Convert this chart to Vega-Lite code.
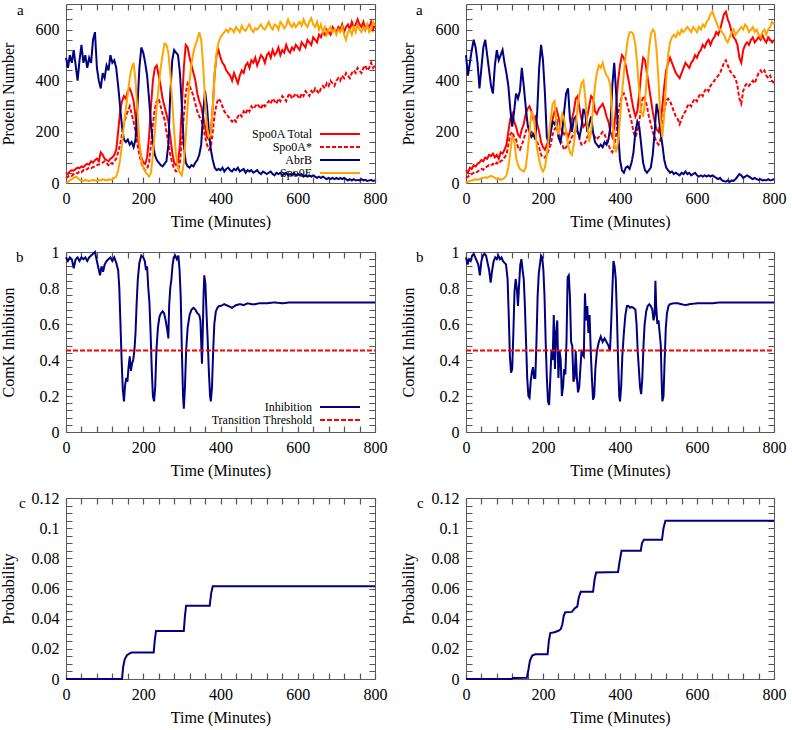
{
"$schema": "https://vega.github.io/schema/vega-lite/v6.json",
"padding": {"left": -1, "top": 0, "right": 4, "bottom": 2},
"config": {
 "font": "Liberation Serif, DejaVu Serif, serif",
 "view": {"stroke": "#5a5a5a", "strokeWidth": 1},
 "axis": {"domain": false, "ticks": false, "grid": true, "gridColor": "#555555", "gridWidth": 1.2, "gridOpacity": 1, "labelFlush": false, "labelOverlap": false, "labelFont": "Liberation Serif, DejaVu Serif, serif", "labelFontSize": 16, "labelColor": "#000", "titleFont": "Liberation Serif, DejaVu Serif, serif", "titleFontSize": 16, "titleFontWeight": "normal", "titleColor": "#000", "labelPadding": 7, "titlePadding": 0, "minExtent": 50, "maxExtent": 50},
 "axisX": {"minExtent": 30, "maxExtent": 30},
 "legend": {"labelFont": "Liberation Serif, DejaVu Serif, serif", "labelFontSize": 12, "labelColor": "#000", "symbolStrokeWidth": 2, "labelAlign": "right", "rowPadding": 1, "padding": 0},
 "title": {"font": "Liberation Serif, DejaVu Serif, serif", "fontSize": 15, "fontWeight": "normal", "color": "#000", "frame": "group", "anchor": "start"}
},
"datasets": {
 "aL": [
{"t":0,"T":40,"S":20,"B":490,"E":0},{"t":5,"T":35,"S":25,"B":450,"E":5},{"t":10,"T":45,"S":30,"B":500,"E":10},{"t":15,"T":50,"S":28,"B":470,"E":15},{"t":20,"T":48,"S":35,"B":520,"E":20},{"t":25,"T":55,"S":40,"B":460,"E":25},{"t":30,"T":60,"S":38,"B":400,"E":20},{"t":35,"T":58,"S":45,"B":480,"E":12},{"t":40,"T":65,"S":42,"B":540,"E":10},{"t":45,"T":62,"S":50,"B":470,"E":8},{"t":50,"T":70,"S":48,"B":500,"E":12},{"t":55,"T":75,"S":55,"B":450,"E":10},{"t":60,"T":72,"S":60,"B":490,"E":8},{"t":65,"T":85,"S":58,"B":470,"E":10},{"t":70,"T":80,"S":62,"B":560,"E":12},{"t":75,"T":90,"S":65,"B":590,"E":10},{"t":80,"T":95,"S":70,"B":450,"E":8},{"t":85,"T":85,"S":72,"B":400,"E":12},{"t":90,"T":120,"S":75,"B":370,"E":10},{"t":95,"T":110,"S":80,"B":430,"E":15},{"t":100,"T":95,"S":85,"B":410,"E":12},{"t":105,"T":90,"S":78,"B":460,"E":10},{"t":110,"T":85,"S":70,"B":440,"E":15},{"t":115,"T":95,"S":80,"B":500,"E":12},{"t":120,"T":100,"S":75,"B":470,"E":15},{"t":125,"T":110,"S":85,"B":480,"E":20},{"t":130,"T":130,"S":95,"B":450,"E":25},{"t":135,"T":200,"S":120,"B":380,"E":50},{"t":140,"T":280,"S":150,"B":300,"E":90},{"t":145,"T":320,"S":190,"B":220,"E":150},{"t":150,"T":340,"S":230,"B":170,"E":230},{"t":155,"T":330,"S":260,"B":160,"E":290},{"t":160,"T":360,"S":280,"B":170,"E":350},{"t":165,"T":370,"S":300,"B":150,"E":410},{"t":170,"T":350,"S":270,"B":160,"E":450},{"t":175,"T":320,"S":240,"B":140,"E":470},{"t":180,"T":260,"S":200,"B":170,"E":400},{"t":185,"T":200,"S":150,"B":300,"E":280},{"t":190,"T":140,"S":110,"B":450,"E":160},{"t":195,"T":100,"S":80,"B":530,"E":90},{"t":200,"T":80,"S":60,"B":510,"E":60},{"t":205,"T":75,"S":50,"B":470,"E":45},{"t":210,"T":100,"S":55,"B":420,"E":35},{"t":215,"T":180,"S":80,"B":330,"E":25},{"t":220,"T":300,"S":150,"B":230,"E":40},{"t":225,"T":400,"S":230,"B":160,"E":110},{"t":230,"T":450,"S":290,"B":110,"E":200},{"t":235,"T":460,"S":320,"B":90,"E":300},{"t":240,"T":420,"S":330,"B":80,"E":380},{"t":245,"T":380,"S":300,"B":70,"E":450},{"t":250,"T":330,"S":270,"B":65,"E":500},{"t":255,"T":300,"S":250,"B":75,"E":545},{"t":260,"T":270,"S":200,"B":85,"E":540},{"t":265,"T":240,"S":160,"B":150,"E":510},{"t":270,"T":180,"S":110,"B":350,"E":430},{"t":275,"T":120,"S":80,"B":480,"E":320},{"t":280,"T":80,"S":55,"B":520,"E":200},{"t":285,"T":70,"S":45,"B":510,"E":110},{"t":290,"T":80,"S":50,"B":500,"E":60},{"t":295,"T":150,"S":80,"B":430,"E":40},{"t":300,"T":300,"S":160,"B":300,"E":30},{"t":305,"T":450,"S":260,"B":150,"E":80},{"t":310,"T":540,"S":350,"B":80,"E":180},{"t":315,"T":530,"S":390,"B":65,"E":300},{"t":320,"T":490,"S":380,"B":60,"E":400},{"t":325,"T":460,"S":360,"B":70,"E":470},{"t":330,"T":430,"S":340,"B":65,"E":510},{"t":335,"T":400,"S":310,"B":80,"E":540},{"t":340,"T":350,"S":280,"B":90,"E":560},{"t":345,"T":320,"S":260,"B":110,"E":590},{"t":350,"T":300,"S":250,"B":150,"E":560},{"t":355,"T":260,"S":220,"B":270,"E":460},{"t":360,"T":220,"S":180,"B":360,"E":330},{"t":365,"T":180,"S":150,"B":300,"E":220},{"t":370,"T":170,"S":130,"B":200,"E":180},{"t":375,"T":200,"S":140,"B":130,"E":190},{"t":380,"T":300,"S":200,"B":90,"E":300},{"t":385,"T":430,"S":270,"B":60,"E":430},{"t":390,"T":500,"S":310,"B":50,"E":510},{"t":395,"T":520,"S":330,"B":55,"E":550},{"t":400,"T":490,"S":320,"B":50,"E":570},{"t":405,"T":470,"S":300,"B":60,"E":580},{"t":410,"T":460,"S":280,"B":45,"E":590},{"t":415,"T":440,"S":270,"B":55,"E":600},{"t":420,"T":430,"S":260,"B":60,"E":590},{"t":425,"T":420,"S":250,"B":50,"E":605},{"t":430,"T":400,"S":240,"B":45,"E":600},{"t":435,"T":430,"S":250,"B":55,"E":590},{"t":440,"T":410,"S":240,"B":50,"E":610},{"t":445,"T":390,"S":260,"B":60,"E":600},{"t":450,"T":420,"S":270,"B":45,"E":590},{"t":455,"T":440,"S":260,"B":50,"E":615},{"t":460,"T":430,"S":280,"B":55,"E":600},{"t":465,"T":460,"S":270,"B":40,"E":595},{"t":470,"T":470,"S":290,"B":50,"E":610},{"t":475,"T":450,"S":280,"B":45,"E":620},{"t":480,"T":480,"S":300,"B":50,"E":600},{"t":485,"T":470,"S":290,"B":40,"E":590},{"t":490,"T":490,"S":300,"B":45,"E":605},{"t":495,"T":460,"S":310,"B":50,"E":600},{"t":500,"T":480,"S":300,"B":40,"E":610},{"t":505,"T":500,"S":290,"B":35,"E":620},{"t":510,"T":490,"S":310,"B":45,"E":605},{"t":515,"T":470,"S":300,"B":40,"E":600},{"t":520,"T":500,"S":310,"B":35,"E":615},{"t":525,"T":510,"S":320,"B":40,"E":630},{"t":530,"T":490,"S":310,"B":45,"E":610},{"t":535,"T":520,"S":330,"B":35,"E":600},{"t":540,"T":500,"S":320,"B":30,"E":620},{"t":545,"T":510,"S":310,"B":40,"E":615},{"t":550,"T":530,"S":330,"B":35,"E":600},{"t":555,"T":500,"S":320,"B":40,"E":630},{"t":560,"T":520,"S":340,"B":30,"E":620},{"t":565,"T":510,"S":330,"B":35,"E":605},{"t":570,"T":540,"S":320,"B":40,"E":615},{"t":575,"T":520,"S":340,"B":30,"E":640},{"t":580,"T":510,"S":350,"B":35,"E":620},{"t":585,"T":530,"S":330,"B":30,"E":610},{"t":590,"T":520,"S":340,"B":40,"E":625},{"t":595,"T":540,"S":350,"B":30,"E":610},{"t":600,"T":530,"S":340,"B":35,"E":620},{"t":605,"T":520,"S":330,"B":30,"E":630},{"t":610,"T":550,"S":350,"B":35,"E":615},{"t":615,"T":540,"S":340,"B":25,"E":640},{"t":620,"T":530,"S":360,"B":30,"E":620},{"t":625,"T":560,"S":350,"B":25,"E":610},{"t":630,"T":550,"S":340,"B":30,"E":630},{"t":635,"T":540,"S":360,"B":25,"E":645},{"t":640,"T":570,"S":350,"B":30,"E":620},{"t":645,"T":560,"S":370,"B":25,"E":610},{"t":650,"T":550,"S":360,"B":20,"E":630},{"t":655,"T":580,"S":350,"B":25,"E":600},{"t":660,"T":570,"S":370,"B":20,"E":620},{"t":665,"T":590,"S":380,"B":25,"E":590},{"t":670,"T":580,"S":370,"B":20,"E":610},{"t":675,"T":600,"S":390,"B":15,"E":580},{"t":680,"T":590,"S":380,"B":20,"E":600},{"t":685,"T":580,"S":400,"B":15,"E":610},{"t":690,"T":610,"S":390,"B":20,"E":590},{"t":695,"T":600,"S":380,"B":15,"E":600},{"t":700,"T":590,"S":400,"B":20,"E":580},{"t":705,"T":610,"S":410,"B":15,"E":600},{"t":710,"T":600,"S":400,"B":20,"E":590},{"t":715,"T":620,"S":420,"B":15,"E":610},{"t":720,"T":590,"S":410,"B":20,"E":580},{"t":725,"T":610,"S":430,"B":15,"E":560},{"t":730,"T":620,"S":420,"B":10,"E":590},{"t":735,"T":600,"S":410,"B":15,"E":600},{"t":740,"T":630,"S":430,"B":10,"E":580},{"t":745,"T":610,"S":440,"B":15,"E":610},{"t":750,"T":620,"S":430,"B":10,"E":590},{"t":755,"T":640,"S":450,"B":12,"E":620},{"t":760,"T":620,"S":440,"B":10,"E":600},{"t":765,"T":610,"S":430,"B":15,"E":590},{"t":770,"T":630,"S":450,"B":10,"E":610},{"t":775,"T":600,"S":460,"B":12,"E":600},{"t":780,"T":620,"S":440,"B":8,"E":620},{"t":785,"T":610,"S":450,"B":10,"E":590},{"t":790,"T":630,"S":470,"B":12,"E":600},{"t":795,"T":600,"S":450,"B":8,"E":630},{"t":800,"T":620,"S":460,"B":10,"E":615}
 ],
 "aR": [
{"t":0,"T":50,"S":20,"B":500,"E":0},{"t":5,"T":40,"S":25,"B":420,"E":5},{"t":10,"T":60,"S":30,"B":470,"E":8},{"t":15,"T":55,"S":35,"B":520,"E":10},{"t":20,"T":70,"S":40,"B":560,"E":12},{"t":25,"T":65,"S":38,"B":530,"E":15},{"t":30,"T":75,"S":45,"B":470,"E":12},{"t":35,"T":80,"S":50,"B":370,"E":15},{"t":40,"T":90,"S":55,"B":450,"E":18},{"t":45,"T":85,"S":52,"B":530,"E":20},{"t":50,"T":100,"S":60,"B":560,"E":22},{"t":55,"T":95,"S":65,"B":500,"E":20},{"t":60,"T":110,"S":70,"B":440,"E":25},{"t":65,"T":105,"S":68,"B":380,"E":28},{"t":70,"T":115,"S":75,"B":350,"E":25},{"t":75,"T":100,"S":70,"B":460,"E":20},{"t":80,"T":110,"S":80,"B":520,"E":15},{"t":85,"T":95,"S":75,"B":480,"E":18},{"t":90,"T":120,"S":85,"B":500,"E":12},{"t":95,"T":115,"S":90,"B":520,"E":15},{"t":100,"T":130,"S":100,"B":470,"E":20},{"t":105,"T":150,"S":110,"B":430,"E":30},{"t":110,"T":200,"S":150,"B":380,"E":60},{"t":115,"T":250,"S":190,"B":290,"E":120},{"t":120,"T":270,"S":200,"B":220,"E":180},{"t":125,"T":240,"S":180,"B":280,"E":170},{"t":130,"T":220,"S":170,"B":350,"E":100},{"t":135,"T":190,"S":140,"B":330,"E":70},{"t":140,"T":180,"S":130,"B":360,"E":55},{"t":145,"T":210,"S":150,"B":450,"E":50},{"t":150,"T":230,"S":170,"B":380,"E":45},{"t":155,"T":270,"S":200,"B":300,"E":60},{"t":160,"T":290,"S":220,"B":230,"E":120},{"t":165,"T":300,"S":210,"B":200,"E":200},{"t":170,"T":280,"S":200,"B":180,"E":280},{"t":175,"T":250,"S":190,"B":190,"E":260},{"t":180,"T":260,"S":180,"B":170,"E":200},{"t":185,"T":230,"S":160,"B":280,"E":130},{"t":190,"T":200,"S":140,"B":450,"E":90},{"t":195,"T":160,"S":110,"B":540,"E":60},{"t":200,"T":140,"S":100,"B":480,"E":45},{"t":205,"T":130,"S":100,"B":350,"E":60},{"t":210,"T":150,"S":110,"B":180,"E":110},{"t":215,"T":170,"S":130,"B":150,"E":180},{"t":220,"T":200,"S":150,"B":200,"E":250},{"t":225,"T":250,"S":190,"B":240,"E":310},{"t":230,"T":280,"S":210,"B":230,"E":320},{"t":235,"T":290,"S":220,"B":250,"E":230},{"t":240,"T":260,"S":200,"B":180,"E":190},{"t":245,"T":220,"S":170,"B":160,"E":220},{"t":250,"T":200,"S":150,"B":200,"E":270},{"t":255,"T":190,"S":130,"B":280,"E":250},{"t":260,"T":200,"S":140,"B":350,"E":200},{"t":265,"T":180,"S":150,"B":370,"E":150},{"t":270,"T":200,"S":160,"B":250,"E":120},{"t":275,"T":250,"S":180,"B":200,"E":110},{"t":280,"T":280,"S":190,"B":250,"E":150},{"t":285,"T":330,"S":210,"B":260,"E":220},{"t":290,"T":340,"S":200,"B":200,"E":300},{"t":295,"T":290,"S":170,"B":180,"E":350},{"t":300,"T":250,"S":150,"B":220,"E":390},{"t":305,"T":220,"S":150,"B":290,"E":400},{"t":310,"T":230,"S":160,"B":270,"E":330},{"t":315,"T":260,"S":180,"B":200,"E":230},{"t":320,"T":300,"S":190,"B":230,"E":160},{"t":325,"T":340,"S":200,"B":260,"E":200},{"t":330,"T":330,"S":190,"B":200,"E":300},{"t":335,"T":280,"S":180,"B":160,"E":380},{"t":340,"T":270,"S":170,"B":150,"E":430},{"t":345,"T":290,"S":180,"B":140,"E":460},{"t":350,"T":300,"S":190,"B":150,"E":450},{"t":355,"T":310,"S":200,"B":140,"E":470},{"t":360,"T":290,"S":190,"B":160,"E":440},{"t":365,"T":260,"S":170,"B":150,"E":420},{"t":370,"T":240,"S":150,"B":170,"E":410},{"t":375,"T":200,"S":130,"B":220,"E":380},{"t":380,"T":180,"S":120,"B":380,"E":250},{"t":385,"T":220,"S":140,"B":470,"E":150},{"t":390,"T":300,"S":190,"B":350,"E":120},{"t":395,"T":400,"S":270,"B":200,"E":160},{"t":400,"T":460,"S":310,"B":90,"E":250},{"t":405,"T":500,"S":340,"B":50,"E":350},{"t":410,"T":490,"S":350,"B":40,"E":430},{"t":415,"T":460,"S":330,"B":60,"E":500},{"t":420,"T":420,"S":300,"B":65,"E":560},{"t":425,"T":380,"S":270,"B":55,"E":590},{"t":430,"T":330,"S":240,"B":80,"E":590},{"t":435,"T":290,"S":200,"B":120,"E":580},{"t":440,"T":260,"S":180,"B":200,"E":540},{"t":445,"T":280,"S":200,"B":240,"E":460},{"t":450,"T":350,"S":240,"B":220,"E":350},{"t":455,"T":430,"S":300,"B":150,"E":280},{"t":460,"T":490,"S":340,"B":80,"E":260},{"t":465,"T":480,"S":330,"B":50,"E":320},{"t":470,"T":430,"S":300,"B":40,"E":420},{"t":475,"T":380,"S":260,"B":50,"E":520},{"t":480,"T":330,"S":230,"B":60,"E":580},{"t":485,"T":280,"S":200,"B":110,"E":600},{"t":490,"T":240,"S":180,"B":200,"E":590},{"t":495,"T":210,"S":160,"B":310,"E":520},{"t":500,"T":200,"S":150,"B":270,"E":400},{"t":505,"T":230,"S":170,"B":200,"E":250},{"t":510,"T":300,"S":220,"B":150,"E":180},{"t":515,"T":380,"S":280,"B":90,"E":270},{"t":520,"T":440,"S":320,"B":60,"E":400},{"t":525,"T":470,"S":330,"B":50,"E":500},{"t":530,"T":490,"S":320,"B":40,"E":550},{"t":535,"T":470,"S":300,"B":45,"E":570},{"t":540,"T":450,"S":280,"B":35,"E":580},{"t":545,"T":430,"S":260,"B":40,"E":570},{"t":550,"T":420,"S":250,"B":35,"E":590},{"t":555,"T":410,"S":230,"B":30,"E":580},{"t":560,"T":430,"S":250,"B":40,"E":600},{"t":565,"T":450,"S":270,"B":35,"E":590},{"t":570,"T":470,"S":280,"B":45,"E":600},{"t":575,"T":460,"S":300,"B":35,"E":610},{"t":580,"T":450,"S":310,"B":40,"E":600},{"t":585,"T":470,"S":300,"B":30,"E":590},{"t":590,"T":480,"S":320,"B":35,"E":610},{"t":595,"T":500,"S":330,"B":40,"E":600},{"t":600,"T":490,"S":320,"B":30,"E":590},{"t":605,"T":510,"S":340,"B":25,"E":610},{"t":610,"T":520,"S":350,"B":30,"E":600},{"t":615,"T":540,"S":340,"B":25,"E":620},{"t":620,"T":530,"S":360,"B":30,"E":610},{"t":625,"T":550,"S":370,"B":25,"E":630},{"t":630,"T":560,"S":360,"B":30,"E":640},{"t":635,"T":540,"S":380,"B":25,"E":660},{"t":640,"T":560,"S":390,"B":30,"E":670},{"t":645,"T":570,"S":400,"B":25,"E":650},{"t":650,"T":590,"S":410,"B":20,"E":630},{"t":655,"T":580,"S":420,"B":15,"E":610},{"t":660,"T":600,"S":430,"B":20,"E":600},{"t":665,"T":630,"S":450,"B":10,"E":590},{"t":670,"T":660,"S":470,"B":8,"E":580},{"t":675,"T":670,"S":480,"B":5,"E":560},{"t":680,"T":640,"S":460,"B":10,"E":550},{"t":685,"T":620,"S":440,"B":5,"E":570},{"t":690,"T":590,"S":430,"B":10,"E":590},{"t":695,"T":570,"S":420,"B":8,"E":600},{"t":700,"T":560,"S":410,"B":15,"E":580},{"t":705,"T":540,"S":380,"B":25,"E":590},{"t":710,"T":490,"S":330,"B":35,"E":600},{"t":715,"T":470,"S":310,"B":30,"E":610},{"t":720,"T":520,"S":360,"B":20,"E":600},{"t":725,"T":540,"S":380,"B":25,"E":620},{"t":730,"T":550,"S":390,"B":30,"E":610},{"t":735,"T":540,"S":380,"B":25,"E":590},{"t":740,"T":560,"S":390,"B":20,"E":600},{"t":745,"T":570,"S":400,"B":15,"E":610},{"t":750,"T":550,"S":390,"B":20,"E":590},{"t":755,"T":560,"S":410,"B":15,"E":600},{"t":760,"T":570,"S":430,"B":12,"E":580},{"t":765,"T":560,"S":440,"B":15,"E":570},{"t":770,"T":580,"S":430,"B":10,"E":590},{"t":775,"T":560,"S":440,"B":12,"E":600},{"t":780,"T":550,"S":420,"B":10,"E":580},{"t":785,"T":570,"S":410,"B":15,"E":600},{"t":790,"T":560,"S":420,"B":10,"E":610},{"t":795,"T":550,"S":400,"B":12,"E":630},{"t":800,"T":560,"S":390,"B":15,"E":620}
 ],
 "bL": [
{"t":0,"v":0.97},{"t":5,"v":0.95},{"t":10,"v":0.97},{"t":15,"v":0.96},{"t":20,"v":0.91},{"t":25,"v":0.96},{"t":30,"v":0.97},{"t":35,"v":0.95},{"t":40,"v":0.97},{"t":45,"v":0.96},{"t":50,"v":0.97},{"t":55,"v":0.95},{"t":60,"v":0.97},{"t":65,"v":0.98},{"t":70,"v":0.99},{"t":75,"v":1.0},{"t":80,"v":0.95},{"t":85,"v":0.9},{"t":88,"v":0.87},{"t":92,"v":0.92},{"t":96,"v":0.89},{"t":100,"v":0.93},{"t":105,"v":0.95},{"t":110,"v":0.96},{"t":115,"v":0.97},{"t":120,"v":0.95},{"t":125,"v":0.97},{"t":130,"v":0.94},{"t":135,"v":0.9},{"t":138,"v":0.8},{"t":141,"v":0.6},{"t":144,"v":0.4},{"t":147,"v":0.24},{"t":150,"v":0.17},{"t":153,"v":0.26},{"t":156,"v":0.3},{"t":159,"v":0.28},{"t":162,"v":0.36},{"t":165,"v":0.42},{"t":168,"v":0.34},{"t":171,"v":0.38},{"t":174,"v":0.4},{"t":177,"v":0.45},{"t":180,"v":0.55},{"t":183,"v":0.72},{"t":186,"v":0.85},{"t":190,"v":0.94},{"t":195,"v":0.98},{"t":200,"v":0.97},{"t":204,"v":0.95},{"t":207,"v":0.9},{"t":210,"v":0.92},{"t":213,"v":0.8},{"t":216,"v":0.72},{"t":219,"v":0.55},{"t":222,"v":0.35},{"t":225,"v":0.2},{"t":228,"v":0.17},{"t":231,"v":0.25},{"t":234,"v":0.45},{"t":238,"v":0.58},{"t":242,"v":0.64},{"t":246,"v":0.66},{"t":250,"v":0.67},{"t":254,"v":0.66},{"t":258,"v":0.62},{"t":262,"v":0.57},{"t":265,"v":0.52},{"t":267,"v":0.7},{"t":270,"v":0.8},{"t":273,"v":0.85},{"t":276,"v":0.93},{"t":279,"v":0.97},{"t":283,"v":0.98},{"t":287,"v":0.96},{"t":291,"v":0.98},{"t":294,"v":0.9},{"t":297,"v":0.75},{"t":300,"v":0.45},{"t":303,"v":0.2},{"t":305,"v":0.13},{"t":308,"v":0.25},{"t":311,"v":0.45},{"t":315,"v":0.58},{"t":320,"v":0.65},{"t":325,"v":0.68},{"t":330,"v":0.69},{"t":335,"v":0.68},{"t":340,"v":0.66},{"t":345,"v":0.65},{"t":348,"v":0.62},{"t":350,"v":0.5},{"t":352,"v":0.38},{"t":354,"v":0.55},{"t":356,"v":0.75},{"t":358,"v":0.87},{"t":361,"v":0.82},{"t":364,"v":0.65},{"t":367,"v":0.5},{"t":370,"v":0.33},{"t":373,"v":0.2},{"t":375,"v":0.17},{"t":378,"v":0.25},{"t":381,"v":0.45},{"t":384,"v":0.6},{"t":388,"v":0.67},{"t":392,"v":0.69},{"t":396,"v":0.7},{"t":400,"v":0.7},{"t":410,"v":0.71},{"t":420,"v":0.7},{"t":430,"v":0.69},{"t":440,"v":0.705},{"t":450,"v":0.71},{"t":460,"v":0.705},{"t":470,"v":0.715},{"t":480,"v":0.71},{"t":490,"v":0.71},{"t":500,"v":0.715},{"t":520,"v":0.715},{"t":540,"v":0.72},{"t":560,"v":0.715},{"t":580,"v":0.72},{"t":600,"v":0.72},{"t":650,"v":0.72},{"t":700,"v":0.72},{"t":750,"v":0.72},{"t":800,"v":0.72}
 ],
 "bR": [
{"t":0,"v":0.97},{"t":4,"v":0.93},{"t":8,"v":0.96},{"t":12,"v":0.95},{"t":16,"v":0.98},{"t":20,"v":0.99},{"t":24,"v":0.97},{"t":28,"v":0.95},{"t":32,"v":0.93},{"t":36,"v":0.87},{"t":40,"v":0.95},{"t":44,"v":0.98},{"t":48,"v":0.99},{"t":52,"v":0.98},{"t":56,"v":0.94},{"t":60,"v":0.9},{"t":64,"v":0.83},{"t":68,"v":0.9},{"t":72,"v":0.95},{"t":76,"v":0.97},{"t":80,"v":0.96},{"t":84,"v":0.98},{"t":88,"v":0.96},{"t":92,"v":0.97},{"t":96,"v":0.95},{"t":100,"v":0.94},{"t":104,"v":0.93},{"t":108,"v":0.85},{"t":111,"v":0.65},{"t":114,"v":0.42},{"t":117,"v":0.33},{"t":120,"v":0.35},{"t":123,"v":0.55},{"t":126,"v":0.78},{"t":129,"v":0.85},{"t":132,"v":0.8},{"t":135,"v":0.7},{"t":138,"v":0.82},{"t":141,"v":0.93},{"t":144,"v":0.96},{"t":147,"v":0.9},{"t":150,"v":0.85},{"t":153,"v":0.7},{"t":156,"v":0.5},{"t":159,"v":0.3},{"t":162,"v":0.2},{"t":165,"v":0.19},{"t":168,"v":0.28},{"t":171,"v":0.33},{"t":174,"v":0.36},{"t":177,"v":0.3},{"t":180,"v":0.3},{"t":183,"v":0.5},{"t":186,"v":0.75},{"t":189,"v":0.88},{"t":192,"v":0.93},{"t":195,"v":0.98},{"t":198,"v":0.97},{"t":201,"v":0.9},{"t":204,"v":0.75},{"t":207,"v":0.5},{"t":210,"v":0.3},{"t":213,"v":0.17},{"t":216,"v":0.15},{"t":219,"v":0.3},{"t":222,"v":0.45},{"t":225,"v":0.4},{"t":228,"v":0.65},{"t":231,"v":0.35},{"t":234,"v":0.55},{"t":237,"v":0.62},{"t":240,"v":0.3},{"t":243,"v":0.45},{"t":246,"v":0.4},{"t":249,"v":0.2},{"t":252,"v":0.25},{"t":255,"v":0.35},{"t":258,"v":0.32},{"t":261,"v":0.5},{"t":264,"v":0.86},{"t":267,"v":0.87},{"t":270,"v":0.75},{"t":273,"v":0.5},{"t":276,"v":0.48},{"t":279,"v":0.28},{"t":282,"v":0.3},{"t":285,"v":0.45},{"t":288,"v":0.3},{"t":291,"v":0.22},{"t":294,"v":0.25},{"t":297,"v":0.35},{"t":300,"v":0.45},{"t":303,"v":0.43},{"t":306,"v":0.42},{"t":309,"v":0.77},{"t":312,"v":0.62},{"t":315,"v":0.7},{"t":318,"v":0.55},{"t":321,"v":0.65},{"t":324,"v":0.45},{"t":327,"v":0.3},{"t":330,"v":0.18},{"t":333,"v":0.2},{"t":336,"v":0.35},{"t":340,"v":0.45},{"t":345,"v":0.5},{"t":350,"v":0.53},{"t":355,"v":0.5},{"t":360,"v":0.52},{"t":365,"v":0.5},{"t":370,"v":0.48},{"t":374,"v":0.45},{"t":377,"v":0.6},{"t":380,"v":0.78},{"t":383,"v":0.95},{"t":386,"v":0.92},{"t":389,"v":0.85},{"t":392,"v":0.65},{"t":395,"v":0.4},{"t":398,"v":0.2},{"t":400,"v":0.17},{"t":403,"v":0.25},{"t":406,"v":0.42},{"t":410,"v":0.55},{"t":414,"v":0.65},{"t":418,"v":0.7},{"t":422,"v":0.7},{"t":426,"v":0.69},{"t":430,"v":0.695},{"t":435,"v":0.69},{"t":440,"v":0.68},{"t":443,"v":0.6},{"t":446,"v":0.45},{"t":449,"v":0.35},{"t":452,"v":0.25},{"t":455,"v":0.21},{"t":458,"v":0.3},{"t":461,"v":0.48},{"t":464,"v":0.6},{"t":468,"v":0.67},{"t":472,"v":0.7},{"t":476,"v":0.71},{"t":480,"v":0.7},{"t":484,"v":0.68},{"t":487,"v":0.62},{"t":490,"v":0.65},{"t":492,"v":0.84},{"t":494,"v":0.7},{"t":497,"v":0.6},{"t":500,"v":0.62},{"t":503,"v":0.55},{"t":506,"v":0.48},{"t":508,"v":0.3},{"t":510,"v":0.17},{"t":513,"v":0.2},{"t":516,"v":0.4},{"t":519,"v":0.58},{"t":522,"v":0.66},{"t":526,"v":0.7},{"t":530,"v":0.71},{"t":540,"v":0.715},{"t":550,"v":0.715},{"t":560,"v":0.71},{"t":570,"v":0.705},{"t":580,"v":0.71},{"t":600,"v":0.715},{"t":620,"v":0.715},{"t":640,"v":0.715},{"t":660,"v":0.72},{"t":700,"v":0.72},{"t":750,"v":0.72},{"t":800,"v":0.72}
 ],
 "thr": [{"t":0,"v":0.453},{"t":800,"v":0.453}],
 "cL": [{"t":0,"v":0},{"t":145,"v":0},{"t":148,"v":0.008},{"t":152,"v":0.013},{"t":158,"v":0.0158},{"t":166,"v":0.0172},{"t":170,"v":0.0175},{"t":227,"v":0.0175},{"t":230,"v":0.026},{"t":233,"v":0.0319},{"t":305,"v":0.0319},{"t":308,"v":0.042},{"t":311,"v":0.0485},{"t":372,"v":0.0485},{"t":376,"v":0.057},{"t":380,"v":0.0615},{"t":800,"v":0.0615}],
 "cR": [{"t":0,"v":0},{"t":118,"v":0},{"t":122,"v":0.0007},{"t":158,"v":0.0008},{"t":162,"v":0.006},{"t":166,"v":0.012},{"t":172,"v":0.0155},{"t":180,"v":0.0164},{"t":212,"v":0.0164},{"t":215,"v":0.025},{"t":219,"v":0.0305},{"t":230,"v":0.031},{"t":240,"v":0.032},{"t":246,"v":0.033},{"t":250,"v":0.036},{"t":254,"v":0.042},{"t":258,"v":0.0443},{"t":275,"v":0.0445},{"t":283,"v":0.047},{"t":289,"v":0.048},{"t":293,"v":0.054},{"t":298,"v":0.0578},{"t":330,"v":0.0578},{"t":334,"v":0.066},{"t":338,"v":0.0706},{"t":395,"v":0.071},{"t":399,"v":0.078},{"t":404,"v":0.085},{"t":454,"v":0.085},{"t":457,"v":0.09},{"t":462,"v":0.0923},{"t":509,"v":0.0923},{"t":513,"v":0.1},{"t":518,"v":0.105},{"t":800,"v":0.105}]
},
"resolve": {"scale": {"color": "independent", "strokeDash": "independent"}},
"vconcat": [
 {"resolve": {"scale": {"color": "independent", "strokeDash": "independent"}},
  "vconcat": [
  {"resolve": {"scale": {"color": "independent", "strokeDash": "independent"}},
   "hconcat": [
   {"width": 309, "height": 179,
    "title": {"text": "a", "offset": -17, "dx": -49},
    "data": {"name": "aL"}, "transform": [{"fold": ["T","S","B","E"], "as": ["k","v"]}],
    "mark": {"type": "line", "strokeWidth": 2},
    "encoding": {
     "x": {"field": "t", "type": "quantitative", "scale": {"domain": [0,800], "nice": false}, "axis": {"values": [0,40,80,120,160,200,240,280,320,360,400,440,480,520,560,600,640,680,720,760,800], "labelExpr": "datum.value % 200 === 0 ? datum.label : ''", "gridDash": [6,167,6,1000], "title": "Time (Minutes)"}},
     "y": {"field": "v", "type": "quantitative", "scale": {"domain": [0,700], "nice": false}, "axis": {"values": [0,40,80,120,160,200,240,280,320,360,400,440,480,520,560,600,640,680], "labelExpr": "datum.value % 200 === 0 ? datum.label : ''", "gridDash": [6,297,6,1000], "title": "Protein Number"}},
     "color": {"field": "k", "type": "nominal", "scale": {"domain": ["T","S","B","E"], "range": ["#ff0000","#ff0000","#000080","#ffa500"]}, "legend": {"orient": "none", "legendX": 268, "legendY": 124, "title": null, "symbolType": "M-4,0H4", "symbolSize": 100, "labelOffset": -34, "labelExpr": "datum.label=='T'?'Spo0A Total':datum.label=='S'?'Spo0A*':datum.label=='B'?'AbrB':'Spo0E'"}},
     "strokeDash": {"field": "k", "type": "nominal", "scale": {"domain": ["T","S","B","E"], "range": [[1,0],[4,2],[1,0],[1,0]]}, "legend": {"orient": "none", "legendX": 268, "legendY": 124, "title": null, "symbolType": "M-4,0H4", "symbolSize": 100, "labelOffset": -34, "labelExpr": "datum.label=='T'?'Spo0A Total':datum.label=='S'?'Spo0A*':datum.label=='B'?'AbrB':'Spo0E'"}}
    }
   },
   {"width": 308, "height": 179,
    "title": {"text": "a", "offset": -17, "dx": -50},
    "data": {"name": "aR"}, "transform": [{"fold": ["T","S","B","E"], "as": ["k","v"]}],
    "mark": {"type": "line", "strokeWidth": 2},
    "encoding": {
     "x": {"field": "t", "type": "quantitative", "scale": {"domain": [0,800], "nice": false}, "axis": {"values": [0,40,80,120,160,200,240,280,320,360,400,440,480,520,560,600,640,680,720,760,800], "labelExpr": "datum.value % 200 === 0 ? datum.label : ''", "gridDash": [6,167,6,1000], "title": "Time (Minutes)"}},
     "y": {"field": "v", "type": "quantitative", "scale": {"domain": [0,700], "nice": false}, "axis": {"values": [0,40,80,120,160,200,240,280,320,360,400,440,480,520,560,600,640,680], "labelExpr": "datum.value % 200 === 0 ? datum.label : ''", "gridDash": [6,296,6,1000], "title": "Protein Number"}},
     "color": {"field": "k", "type": "nominal", "scale": {"domain": ["T","S","B","E"], "range": ["#ff0000","#ff0000","#000080","#ffa500"]}, "legend": null},
     "strokeDash": {"field": "k", "type": "nominal", "scale": {"domain": ["T","S","B","E"], "range": [[1,0],[4,2],[1,0],[1,0]]}, "legend": null}
    }
   }
  ], "spacing": 11},
  {"resolve": {"scale": {"color": "independent", "strokeDash": "independent"}},
   "hconcat": [
   {"width": 309, "height": 180,
    "title": {"text": "b", "offset": -21, "dx": -50},
    "layer": [
     {"data": {"name": "bL"}, "mark": {"type": "line", "strokeWidth": 2},
      "encoding": {
       "x": {"field": "t", "type": "quantitative", "scale": {"domain": [0,800], "nice": false}, "axis": {"values": [0,40,80,120,160,200,240,280,320,360,400,440,480,520,560,600,640,680,720,760,800], "labelExpr": "datum.value % 200 === 0 ? datum.label : ''", "gridDash": [6,168,6,1000], "title": "Time (Minutes)"}},
       "y": {"field": "v", "type": "quantitative", "scale": {"domain": [0,1], "nice": false}, "axis": {"values": [0,0.04,0.08,0.12,0.16,0.2,0.24,0.28,0.32,0.36,0.4,0.44,0.48,0.52,0.56,0.6,0.64,0.68,0.72,0.76,0.8,0.84,0.88,0.92,0.96,1], "format": "~g", "labelExpr": "abs(datum.value*5 - round(datum.value*5)) < 1e-6 ? datum.label : ''", "gridDash": [6,297,6,1000], "title": "ComK Inhibition"}},
       "color": {"datum": "Inhibition", "type": "nominal", "scale": {"domain": ["Inhibition","Transition Threshold"], "range": ["#000080","#ff0000"]}, "legend": {"orient": "none", "legendX": 268, "legendY": 149, "title": null, "symbolType": "M-4,0H4", "symbolSize": 100, "labelOffset": -34}},
       "strokeDash": {"datum": "Inhibition", "type": "nominal", "scale": {"domain": ["Inhibition","Transition Threshold"], "range": [[1,0],[5,2]]}, "legend": {"orient": "none", "legendX": 268, "legendY": 149, "title": null, "symbolType": "M-4,0H4", "symbolSize": 100, "labelOffset": -34}}
      }},
     {"data": {"name": "thr"}, "mark": {"type": "line", "strokeWidth": 2},
      "encoding": {
       "x": {"field": "t", "type": "quantitative", "axis": null},
       "y": {"field": "v", "type": "quantitative", "axis": null},
       "color": {"datum": "Transition Threshold", "type": "nominal"},
       "strokeDash": {"datum": "Transition Threshold", "type": "nominal"}
      }}
    ],
    "resolve": {"axis": {"x": "independent", "y": "independent"}}
   },
   {"width": 308, "height": 180,
    "title": {"text": "b", "offset": -21, "dx": -50},
    "layer": [
     {"data": {"name": "bR"}, "mark": {"type": "line", "strokeWidth": 2},
      "encoding": {
       "x": {"field": "t", "type": "quantitative", "scale": {"domain": [0,800], "nice": false}, "axis": {"values": [0,40,80,120,160,200,240,280,320,360,400,440,480,520,560,600,640,680,720,760,800], "labelExpr": "datum.value % 200 === 0 ? datum.label : ''", "gridDash": [6,168,6,1000], "title": "Time (Minutes)"}},
       "y": {"field": "v", "type": "quantitative", "scale": {"domain": [0,1], "nice": false}, "axis": {"values": [0,0.04,0.08,0.12,0.16,0.2,0.24,0.28,0.32,0.36,0.4,0.44,0.48,0.52,0.56,0.6,0.64,0.68,0.72,0.76,0.8,0.84,0.88,0.92,0.96,1], "format": "~g", "labelExpr": "abs(datum.value*5 - round(datum.value*5)) < 1e-6 ? datum.label : ''", "gridDash": [6,296,6,1000], "title": "ComK Inhibition"}},
       "color": {"datum": "Inhibition", "type": "nominal", "scale": {"domain": ["Inhibition","Transition Threshold"], "range": ["#000080","#ff0000"]}, "legend": null},
       "strokeDash": {"datum": "Inhibition", "type": "nominal", "scale": {"domain": ["Inhibition","Transition Threshold"], "range": [[1,0],[5,2]]}, "legend": null}
      }},
     {"data": {"name": "thr"}, "mark": {"type": "line", "strokeWidth": 2},
      "encoding": {
       "x": {"field": "t", "type": "quantitative", "axis": null},
       "y": {"field": "v", "type": "quantitative", "axis": null},
       "color": {"datum": "Transition Threshold", "type": "nominal"},
       "strokeDash": {"datum": "Transition Threshold", "type": "nominal"}
      }}
    ],
    "resolve": {"axis": {"x": "independent", "y": "independent"}}
   }
  ], "spacing": 11}
 ], "spacing": 13},
 {"hconcat": [
  {"width": 309, "height": 181,
   "title": {"text": "c", "offset": -21, "dx": -47},
   "data": {"name": "cL"}, "mark": {"type": "line", "strokeWidth": 2, "color": "#000080"},
   "encoding": {
    "x": {"field": "t", "type": "quantitative", "scale": {"domain": [0,800], "nice": false}, "axis": {"values": [0,40,80,120,160,200,240,280,320,360,400,440,480,520,560,600,640,680,720,760,800], "labelExpr": "datum.value % 200 === 0 ? datum.label : ''", "gridDash": [6,169,6,1000], "title": "Time (Minutes)"}},
    "y": {"field": "v", "type": "quantitative", "scale": {"domain": [0,0.12], "nice": false}, "axis": {"values": [0,0.005,0.01,0.015,0.02,0.025,0.03,0.035,0.04,0.045,0.05,0.055,0.06,0.065,0.07,0.075,0.08,0.085,0.09,0.095,0.1,0.105,0.11,0.115,0.12], "format": "~g", "labelExpr": "abs(datum.value*50 - round(datum.value*50)) < 1e-6 ? datum.label : ''", "gridDash": [6,297,6,1000], "title": "Probability"}}
   }
  },
  {"width": 308, "height": 181,
   "title": {"text": "c", "offset": -21, "dx": -49},
   "data": {"name": "cR"}, "mark": {"type": "line", "strokeWidth": 2, "color": "#000080"},
   "encoding": {
    "x": {"field": "t", "type": "quantitative", "scale": {"domain": [0,800], "nice": false}, "axis": {"values": [0,40,80,120,160,200,240,280,320,360,400,440,480,520,560,600,640,680,720,760,800], "labelExpr": "datum.value % 200 === 0 ? datum.label : ''", "gridDash": [6,169,6,1000], "title": "Time (Minutes)"}},
    "y": {"field": "v", "type": "quantitative", "scale": {"domain": [0,0.12], "nice": false}, "axis": {"values": [0,0.005,0.01,0.015,0.02,0.025,0.03,0.035,0.04,0.045,0.05,0.055,0.06,0.065,0.07,0.075,0.08,0.085,0.09,0.095,0.1,0.105,0.11,0.115,0.12], "format": "~g", "labelExpr": "abs(datum.value*50 - round(datum.value*50)) < 1e-6 ? datum.label : ''", "gridDash": [6,296,6,1000], "title": "Probability"}}
   }
  }
 ], "spacing": 11}
], "spacing": 10
}
